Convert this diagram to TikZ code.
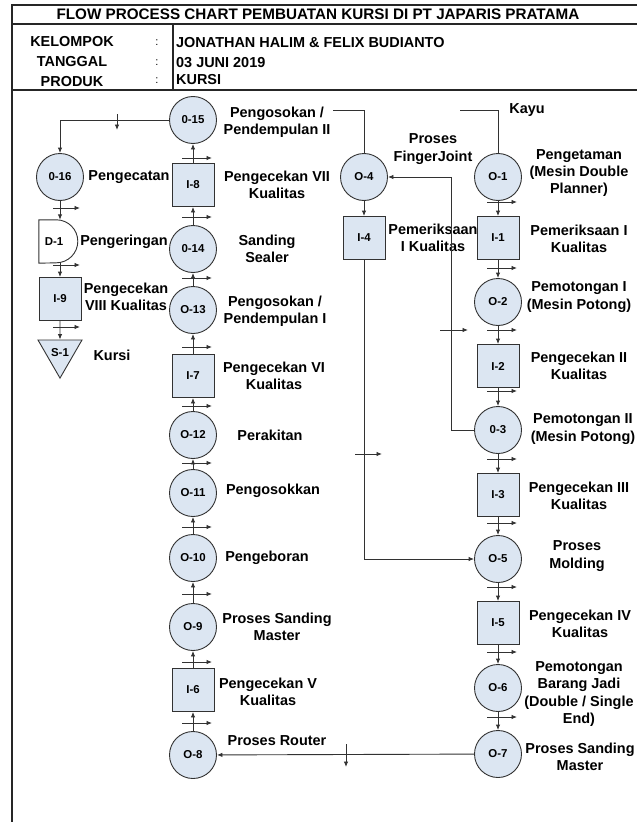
\documentclass[tikz,border=0pt]{standalone}
\usepackage{fontspec}
\setmainfont{Liberation Sans}
\usetikzlibrary{arrows.meta,shapes.geometric,calc}

\definecolor{edge}{RGB}{50,50,50}
\definecolor{boxfill}{RGB}{220,230,242}

\newcommand\mvmark[2]{\draw[flow] (#1-11,#2) -- ++(30,0);}

\begin{document}
\begin{tikzpicture}[x=1bp,y=-1bp,
  every node/.style={inner sep=0pt},
  txt/.style={font=\bfseries\fontsize{14.5}{17.5}\selectfont, align=center, text=black},
  sep/.style={font=\fontsize{11}{13}\selectfont, text=black},
  op/.style={circle, draw=edge, fill=boxfill, line width=0.9bp, minimum size=47bp,
    font=\bfseries\fontsize{11.5}{13}\selectfont},
  insp/.style={rectangle, draw=edge, fill=boxfill, line width=0.9bp,
    minimum width=42bp, minimum height=43bp, font=\bfseries\fontsize{11.5}{13}\selectfont},
  link/.style={draw=edge, line width=0.9bp},
  flow/.style={link, -{Latex[length=5.5bp,width=4.5bp]}},
  frame/.style={draw=black!85, line width=1.2bp}]

\useasboundingbox (0,0) rectangle (637,822);
\fill[white] (0,0) rectangle (637,822);

% header frame
\draw[frame] (637,5) -- (12,5) -- (12,822);
\draw[frame] (12,24) -- (637,24);
\draw[frame] (12,90) -- (637,90);
\draw[frame] (173,24) -- (173,90);

\node[txt, font=\bfseries\fontsize{15.3}{17.5}\selectfont] (title) at (318,14)
  {FLOW PROCESS CHART PEMBUATAN KURSI DI PT JAPARIS PRATAMA};
\node[txt] (hk) at (72,42) {KELOMPOK};
\node[txt] (ht) at (72,62) {TANGGAL};
\node[txt] (hp) at (72,82) {PRODUK};
\node[sep] (ck) at (157,43) {:};
\node[sep] (ct) at (157,63) {:};
\node[sep] (cp) at (157,81) {:};
\node[txt, anchor=west] (vk) at (176,43) {JONATHAN HALIM \& FELIX BUDIANTO};
\node[txt, anchor=west] (vt) at (176,63) {03 JUNI 2019};
\node[txt, anchor=west] (vp) at (176,80) {KURSI};

% right column
\node[op]   (o1) at (498,177) {O-1};
\node[insp] (i1) at (498,238) {I-1};
\node[op]   (o2) at (498,302) {O-2};
\node[insp] (i2) at (498,366) {I-2};
\node[op]   (o3) at (498,430) {0-3};
\node[insp] (i3) at (498,495) {I-3};
\node[op]   (o5) at (498,559) {O-5};
\node[insp] (i5) at (498,623) {I-5};
\node[op]   (o6) at (498,688) {O-6};
\node[op]   (o7) at (498,754) {O-7};

% finger joint branch
\node[op]   (o4) at (364,177) {O-4};
\node[insp] (i4) at (364,238) {I-4};

% middle column
\node[op]   (o15) at (193,120) {0-15};
\node[insp] (i8)  at (193,185) {I-8};
\node[op]   (o14) at (193,249) {0-14};
\node[op]   (o13) at (193,310) {O-13};
\node[insp] (i7)  at (193,376) {I-7};
\node[op]   (o12) at (193,435) {O-12};
\node[op]   (o11) at (193,493) {O-11};
\node[op]   (o10) at (193,558) {O-10};
\node[op]   (o9)  at (193,627) {O-9};
\node[insp] (i6)  at (193,690) {I-6};
\node[op]   (o8)  at (193,755) {O-8};

% left column
\node[op] (o16) at (60,177) {0-16};
\node[minimum width=39bp, minimum height=43bp] (d1) at (58.5,241.5) {};
\draw[link, fill=white] (d1.south west) -- (d1.north west) -- ++(17.5,0)
  arc[start angle=-90, end angle=90, radius=21.5] -- cycle;
\node[font=\bfseries\fontsize{11.5}{13}\selectfont] (d1t) at (54,242) {D-1};
\node[insp] (i9) at (60,299) {I-9};
\node[regular polygon, regular polygon sides=3, shape border rotate=180,
  draw=edge, fill=boxfill, line width=0.9bp, minimum size=50.8bp,
  font=\bfseries\fontsize{11.5}{13}\selectfont] (s1) at (60,352.7) {S-1};

% labels
\node[txt] (t15) at (277,122) {Pengosokan /\\Pendempulan II};
\node[txt] (t8)  at (277,185) {Pengecekan VII\\Kualitas};
\node[txt] (t14) at (267,249) {Sanding\\Sealer};
\node[txt] (t13) at (275,311) {Pengosokan /\\Pendempulan I};
\node[txt] (t7)  at (274,376) {Pengecekan VI\\Kualitas};
\node[txt] (t12) at (270,435) {Perakitan};
\node[txt] (t11) at (273,491) {Pengosokkan};
\node[txt] (t10) at (267,558) {Pengeboran};
\node[txt] (t9)  at (277,627) {Proses Sanding\\Master};
\node[txt] (t6)  at (268,692) {Pengecekan V\\Kualitas};
\node[txt] (t8r) at (277,741) {Proses Router};
\node[txt] (t16) at (129,177) {Pengecatan};
\node[txt] (td1) at (124,242) {Pengeringan};
\node[txt] (t9i) at (126,297) {Pengecekan\\VIII Kualitas};
\node[txt] (ts1) at (112,355) {Kursi};
\node[txt] (t4)  at (433,149) {Proses\\FingerJoint};
\node[txt] (t4i) at (433,238) {Pemeriksaan\\I Kualitas};
\node[txt] (tk)  at (527,110) {Kayu};
\node[txt] (t1)  at (579,173) {Pengetaman\\(Mesin Double\\Planner)};
\node[txt] (t1i) at (579,239) {Pemeriksaan I\\Kualitas};
\node[txt] (t2)  at (579,297) {Pemotongan I\\(Mesin Potong)};
\node[txt] (t2i) at (579,366) {Pengecekan II\\Kualitas};
\node[txt] (t3)  at (583,429) {Pemotongan II\\(Mesin Potong)};
\node[txt] (t3i) at (579,496) {Pengecekan III\\Kualitas};
\node[txt] (t5)  at (577,556) {Proses\\Molding};
\node[txt] (t5i) at (580,624) {Pengecekan IV\\Kualitas};
\node[txt] (t6o) at (579,694) {Pemotongan\\Barang Jadi\\(Double / Single\\End)};
\node[txt] (t7o) at (580,757) {Proses Sanding\\Master};

% raw material inputs
\coordinate (kayuin) at (460,110);
\coordinate (fjin) at (333,110);
\coordinate (fjret) at (451,177);
\draw[link] (kayuin) -| (o1);
\draw[link] (fjin) -| (o4);

% main flow, right column downwards
\draw[flow] (o1) -- (i1);
\draw[flow] (i1) -- (o2);
\draw[flow] (o2) -- (i2);
\draw[flow] (i2) -- (o3);
\draw[flow] (o3) -- (i3);
\draw[flow] (i3) -- (o5);
\draw[flow] (o5) -- (i5);
\draw[flow] (i5) -- (o6);
\draw[flow] (o6) -- (o7);

% finger joint loop
\draw[flow] (o3) -| (fjret) -- (o4);
\draw[flow] (o4) -- (i4);
\draw[flow] (i4) |- (o5);

% across and up the middle column
\draw[flow] (o7) -- (o8);
\draw[flow] (o8) -- (i6);
\draw[flow] (i6) -- (o9);
\draw[flow] (o9) -- (o10);
\draw[flow] (o10) -- (o11);
\draw[flow] (o11) -- (o12);
\draw[flow] (o12) -- (i7);
\draw[flow] (i7) -- (o13);
\draw[flow] (o13) -- (o14);
\draw[flow] (o14) -- (i8);
\draw[flow] (i8) -- (o15);

% finishing, left column
\draw[flow] (o15) -| (o16);
\draw[flow] (o16) -- (o16 |- d1.north);
\draw[flow] (o16 |- d1.south) -- (i9);
\draw[flow] (i9) -- (s1);

% transport marks
\foreach \yy in {158,217,278,347,406,463,527,594,662,723} {\mvmark{193}{\yy}}
\foreach \yy in {202,268,330,391,459,523,587,652,717} {\mvmark{498}{\yy}}
\foreach \yy in {208,265,327} {\draw[flow] (53,\yy) -- ++(27,0);}
\draw[flow] (440,330) -- (468,330);
\draw[flow] (355,454) -- (382,454);
\draw[flow] (117,114) -- (117,130);
\draw[flow] (346,744) -- (346,767);

\end{tikzpicture}
\end{document}
